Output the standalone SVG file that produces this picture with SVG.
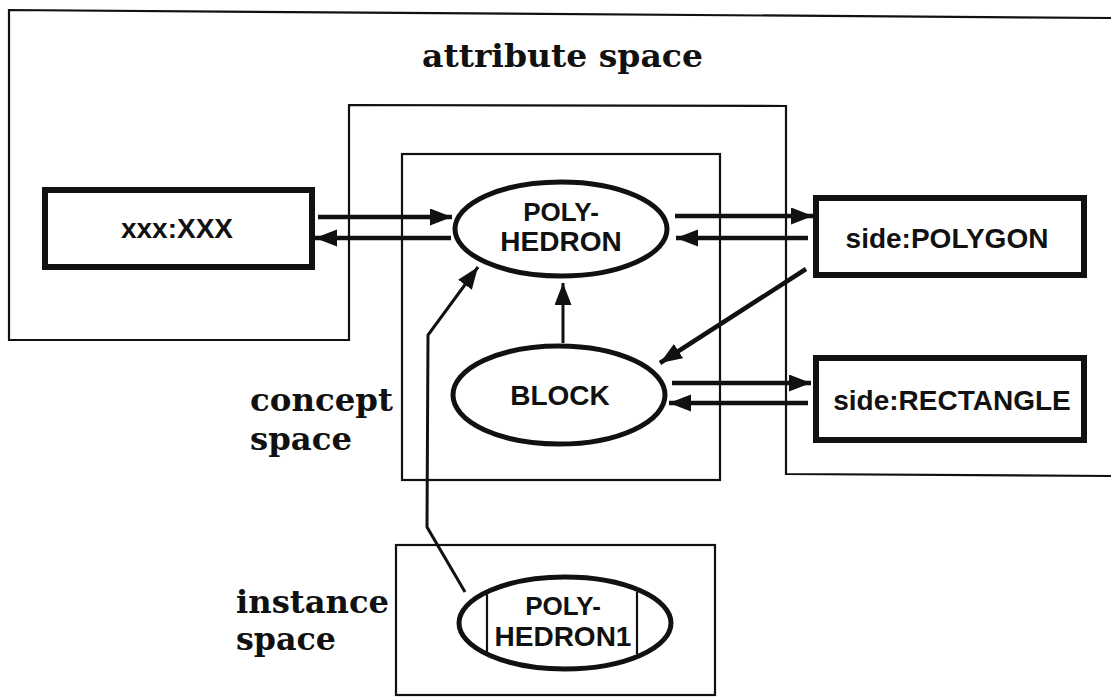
<svg xmlns="http://www.w3.org/2000/svg" width="1111" height="698" viewBox="0 0 1111 698">
<style>
.frame{fill:none;stroke:#111;stroke-width:2.2}
.box{fill:#fff;stroke:#111;stroke-width:6}
.ell{fill:#fff;stroke:#111;stroke-width:5}
.lbl{font-family:"Liberation Sans",Arial,sans-serif;font-weight:bold;font-size:28px;fill:#111;text-anchor:middle}
.sm{font-size:26px}
.space{font-family:"DejaVu Serif","Liberation Serif",serif;font-weight:bold;font-size:32px;fill:#111}
.conn{fill:none;stroke:#111;stroke-width:4.5}
.thin{fill:none;stroke:#111;stroke-width:3}
</style>
<defs>
<marker id="ah" markerUnits="userSpaceOnUse" markerWidth="24" markerHeight="20" refX="22" refY="8.5" orient="auto">
<path d="M0,0 L22,8.5 L0,17 z" fill="#111"/>
</marker>
</defs>
<rect width="1111" height="698" fill="#fff"/>
<g id="attribute-space">
<path class="frame" d="M1111,18 L9,10 L9,340 L349,340 L349,105 L786,106 L786,474 L1111,476"/>
<text class="space" x="422" y="67" textLength="281" lengthAdjust="spacingAndGlyphs">attribute space</text>
</g>
<g id="concept-space">
<rect class="frame" x="402" y="154" width="318" height="326"/>
<text class="space" x="250" y="411" textLength="143" lengthAdjust="spacingAndGlyphs">concept</text>
<text class="space" x="250" y="450" textLength="102" lengthAdjust="spacingAndGlyphs">space</text>
</g>
<g id="instance-space">
<rect class="frame" x="396" y="545" width="319" height="150"/>
<text class="space" x="236" y="613" textLength="153" lengthAdjust="spacingAndGlyphs">instance</text>
<text class="space" x="236" y="650" textLength="100" lengthAdjust="spacingAndGlyphs">space</text>
</g>
<g id="connectors">
<line class="conn" x1="318" y1="217" x2="452" y2="217" marker-end="url(#ah)"/>
<line class="conn" x1="451" y1="238" x2="315" y2="238" marker-end="url(#ah)"/>
<line class="conn" x1="675" y1="216" x2="813" y2="216" marker-end="url(#ah)"/>
<line class="conn" x1="808" y1="238" x2="676" y2="238" marker-end="url(#ah)"/>
<line class="conn" x1="806" y1="269" x2="660" y2="363" marker-end="url(#ah)"/>
<line class="thin" x1="563" y1="343" x2="563" y2="283" marker-end="url(#ah)"/>
<line class="conn" x1="672" y1="383" x2="811" y2="383" marker-end="url(#ah)"/>
<line class="conn" x1="808" y1="403" x2="669" y2="403" marker-end="url(#ah)"/>
<polyline class="thin" points="465,592 427,527 428,335 478,267" marker-end="url(#ah)"/>
</g>
<g id="node-xxx">
<rect class="box" x="45" y="190" width="267" height="77"/>
<text class="lbl" x="177" y="238">xxx:XXX</text>
</g>
<g id="node-polyhedron">
<ellipse class="ell" cx="561" cy="229" rx="106" ry="47"/>
<text class="lbl sm" x="561" y="221">POLY-</text>
<text class="lbl" x="561" y="251">HEDRON</text>
</g>
<g id="node-block">
<ellipse class="ell" cx="559" cy="395" rx="106" ry="49"/>
<text class="lbl" x="560" y="405">BLOCK</text>
</g>
<g id="node-side-polygon">
<rect class="box" x="816" y="198" width="268" height="77"/>
<text class="lbl" x="947" y="248">side:POLYGON</text>
</g>
<g id="node-side-rectangle">
<rect class="box" x="816" y="358" width="268" height="82"/>
<text class="lbl" x="952" y="410">side:RECTANGLE</text>
</g>
<g id="node-polyhedron1">
<ellipse class="ell" cx="565" cy="623" rx="106" ry="46"/>
<line x1="487" y1="592" x2="487" y2="654" stroke="#111" stroke-width="2.2"/>
<line x1="637" y1="592" x2="637" y2="654" stroke="#111" stroke-width="2.2"/>
<text class="lbl sm" x="563" y="615">POLY-</text>
<text class="lbl" x="563" y="646">HEDRON1</text>
</g>
</svg>
